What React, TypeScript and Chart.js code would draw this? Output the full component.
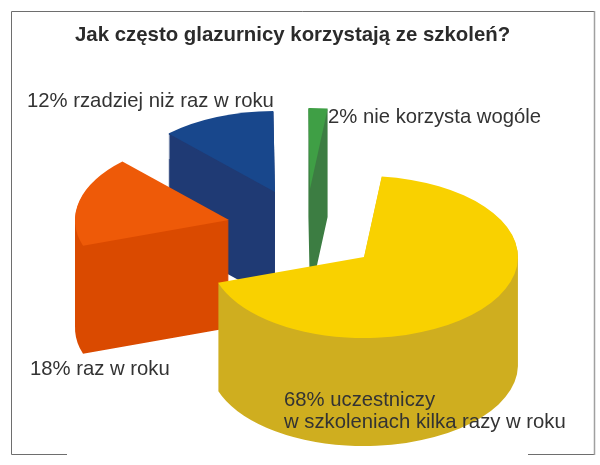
import React, { useEffect, useRef } from 'react';
import { Chart, registerables, Plugin } from 'chart.js';

Chart.register(...registerables);

const TITLE = 'Jak często glazurnicy korzystają ze szkoleń?';

// in clockwise order, starting from the yellow slice
const CATEGORIES = ['uczestniczy w szkoleniach kilka razy w roku', 'raz w roku', 'rzadziej niż raz w roku', 'nie korzysta wogóle'];
const VALUES = [68, 18, 12, 2];

const TOP_COLORS = ['#f9d100', '#ee5a08', '#18478c', '#3f9f45'];
const WALL_COLORS = ['#cfae1f', '#da4a00', '#1f3a74', '#3c7d42'];

// how far each slice is pulled out of the pie, px on screen
const SHIFT_X = [0, -135, -89, -54];
const SHIFT_Y = [0, -37, -65, -68];
// back to front
const DRAW_ORDER = [3, 2, 1, 0];

const PIE_RADIUS = 154;
const SQUASH = 0.526;
const DEPTH = 108;

const LABEL_LINES = [
  ['68% uczestniczy', 'w szkoleniach kilka razy w roku'],
  ['18% raz w roku'],
  ['12% rzadziej niż raz w roku'],
  ['2% nie korzysta wogóle'],
];
const LABEL_X = [284, 30, 27, 328];
const LABEL_Y = [406, 375, 107, 123];
const LABEL_LINE_HEIGHT = 22;

// adds to the current path, so the wall can be filled in one go
const wedge = (ctx: CanvasRenderingContext2D, arc: any, x: number, y: number) => {
  ctx.save();
  ctx.translate(x, y);
  ctx.scale(1, SQUASH);
  ctx.moveTo(0, 0);
  ctx.arc(0, 0, arc.outerRadius, arc.startAngle, arc.endAngle);
  ctx.closePath();
  ctx.restore();
};

const pie3d: Plugin<'pie'> = {
  id: 'pie3d',
  beforeDatasetsDraw(chart) {
    const ctx = chart.ctx;
    const arcs = chart.getDatasetMeta(0).data;
    DRAW_ORDER.forEach(i => {
      const arc = arcs[i].getProps(['x', 'y', 'startAngle', 'endAngle', 'outerRadius']) as any;
      const x = arc.x + SHIFT_X[i];
      const y = arc.y + SHIFT_Y[i];
      ctx.fillStyle = WALL_COLORS[i];
      ctx.beginPath();
      for (let d = DEPTH; d > 0; d--) wedge(ctx, arc, x, y + d);
      ctx.fill();
      ctx.fillStyle = TOP_COLORS[i];
      ctx.beginPath();
      wedge(ctx, arc, x, y);
      ctx.fill();
    });
    return false; // the flat pie is not wanted
  },
  afterDraw(chart) {
    const ctx = chart.ctx;
    ctx.save();

    // frame, the bottom line is broken in the original
    ctx.strokeStyle = '#6e6e6e';
    ctx.lineWidth = 1;
    ctx.beginPath();
    ctx.moveTo(67, 454.5);
    ctx.lineTo(11.5, 454.5);
    ctx.lineTo(11.5, 11.5);
    ctx.lineTo(594, 11.5);
    ctx.moveTo(594, 454.5);
    ctx.lineTo(528, 454.5);
    ctx.stroke();
    ctx.strokeStyle = '#a0a0a0';
    ctx.lineWidth = 1.5;
    ctx.beginPath();
    ctx.moveTo(594.5, 11);
    ctx.lineTo(594.5, 455);
    ctx.stroke();

    ctx.fillStyle = '#2b2b2b';
    ctx.textBaseline = 'alphabetic';
    ctx.font = 'bold 20.4px "Liberation Sans"';
    ctx.fillText(TITLE, 75, 41);

    ctx.fillStyle = '#333333';
    ctx.font = '20.3px "Liberation Sans"';
    LABEL_LINES.forEach((lines, i) => {
      lines.forEach((line, j) => ctx.fillText(line, LABEL_X[i], LABEL_Y[i] + j * LABEL_LINE_HEIGHT));
    });
    ctx.restore();
  },
};

export default function App() {
  const chartRef = useRef<HTMLCanvasElement>(null);

  useEffect(() => {
    if (!chartRef.current) return;
    const chart = new Chart(chartRef.current, {
      type: 'pie',
      data: {
        labels: CATEGORIES,
        datasets: [{ data: VALUES, backgroundColor: TOP_COLORS, borderWidth: 0, radius: PIE_RADIUS }],
      },
      options: {
        responsive: false,
        animation: false,
        rotation: 6.6,
        layout: { padding: { left: 128, top: 49 } },
        plugins: { legend: { display: false }, tooltip: { enabled: false }, title: { display: false } },
      },
      plugins: [pie3d],
    });
    return () => chart.destroy();
  }, []);

  return (
    <div style={{ position: 'absolute', left: 0, top: 0, width: 600, height: 465, overflow: 'hidden', background: '#fff' }}>
      <canvas ref={chartRef} width={600} height={465} style={{ display: 'block' }}></canvas>
    </div>
  );
}
